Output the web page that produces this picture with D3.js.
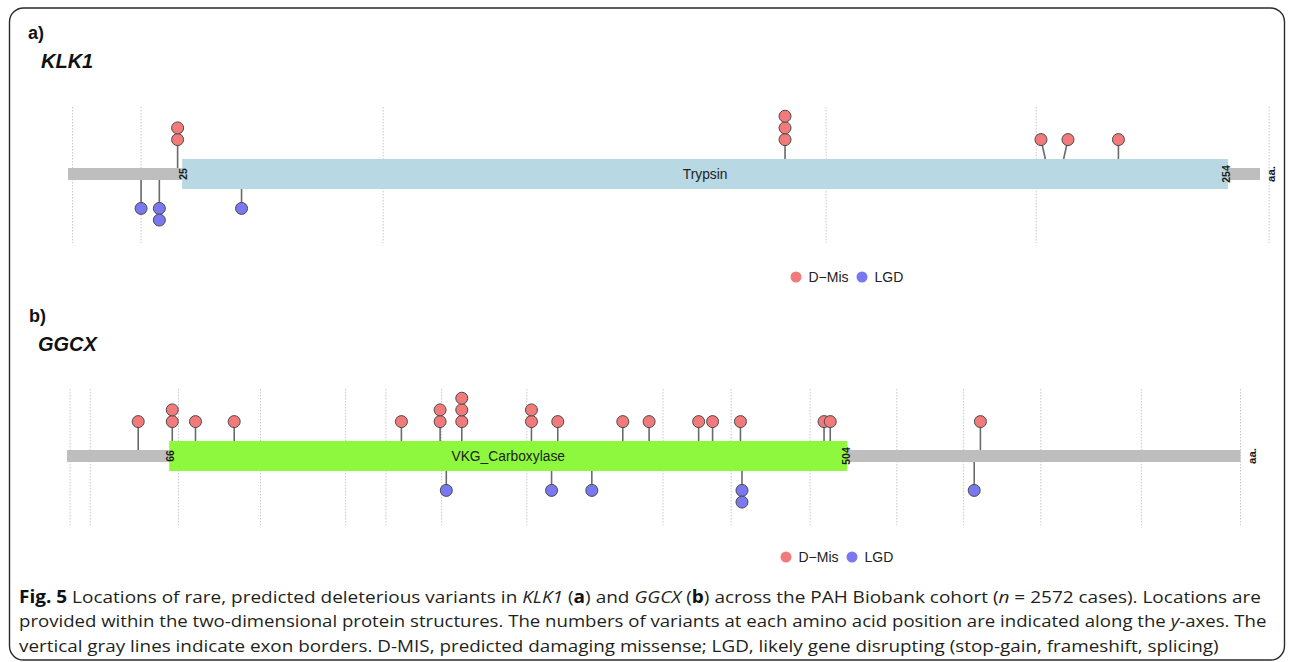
<!DOCTYPE html>
<html>
<head>
<meta charset="utf-8">
<script src="https://cdn.jsdelivr.net/npm/d3@7"></script>
<style>
  html, body { margin: 0; padding: 0; background: #fff; }
  svg { display: block; }
</style>
</head>
<body>
<svg id="fig" width="1290" height="662"></svg>
<script>
// ---- KLK1 ----
const klk1Length = 261;
const klk1Domain = ["Trypsin", 25, 254];
const klk1Exons = [1, 16, 69, 166, 212, 263];
const klk1MisPos = [24, 157, 214, 218, 230];
const klk1MisCount = [2, 3, 1, 1, 1];
const klk1LgdPos = [16, 20, 38];
const klk1LgdCount = [1, 2, 1];

// ---- GGCX ----
const ggcxLength = 758;
const ggcxDomain = ["VKG_Carboxylase", 66, 504];
const ggcxExons = [2, 15, 72, 125, 180, 206, 242, 297, 385, 429, 480, 536, 579, 629, 694, 758];
const ggcxMisPos = [46, 68, 83, 108, 216, 241, 255, 300, 317, 359, 376, 408, 417, 435, 489, 493, 590];
const ggcxMisCount = [1, 2, 1, 1, 1, 2, 3, 2, 1, 1, 1, 1, 1, 1, 1, 1, 1];
const ggcxLgdPos = [245, 313, 339, 436, 586];
const ggcxLgdCount = [1, 1, 1, 2, 1];

const legendLabels = ["D\u2212Mis", "LGD"];

const COL_MIS = "#f27a7b";
const COL_LGD = "#7a78f0";
const FONT = "'Liberation Sans', Arial, Helvetica, sans-serif";

const svg = d3.select("#fig");

// outer frame
svg.append("rect")
  .attr("x", 9.5).attr("y", 8).attr("width", 1275).attr("height", 652)
  .attr("rx", 14).attr("ry", 14)
  .attr("fill", "none").attr("stroke", "#2b2b2b").attr("stroke-width", 1.4);

// push neighbouring lollipop heads apart when they sit closer than `gap` px
function spreadHeads(xs, gap) {
  const heads = xs.slice();
  if (!gap) return heads;
  for (let i = 1; i < heads.length; i++) {
    const d = heads[i] - heads[i - 1];
    if (d < gap) {
      const push = (gap - d) / 2;
      heads[i - 1] -= push;
      heads[i] += push;
    }
  }
  return heads;
}

function drawPanel(cfg) {
  const g = svg.append("g");
  const x = d3.scaleLinear().domain([0, cfg.length]).range(cfg.range);
  const cy = cfg.cy;
  const barH = 12, domH = 30, r = 6, step = 11.7, lift = 34.4;

  // panel letter and gene name
  g.append("text").attr("x", cfg.letterX).attr("y", cfg.letterY)
    .attr("font-family", FONT).attr("font-weight", "bold").attr("font-size", 18)
    .attr("fill", "#111").text(cfg.letter);
  g.append("text").attr("x", cfg.geneX).attr("y", cfg.letterY + 29)
    .attr("font-family", FONT).attr("font-weight", "bold").attr("font-style", "italic")
    .attr("font-size", 20).attr("fill", "#111").text(cfg.gene);

  // exon borders
  g.selectAll("line.exon").data(cfg.exons).join("line")
    .attr("class", "exon")
    .attr("x1", d => x(d)).attr("x2", d => x(d))
    .attr("y1", cy - 67).attr("y2", cy + 69)
    .attr("stroke", "#c8c8c8").attr("stroke-width", 1)
    .attr("stroke-dasharray", "1.5,1.5");

  // backbone and domain
  g.append("rect").attr("x", x(0)).attr("width", x(cfg.length) - x(0))
    .attr("y", cy - barH / 2).attr("height", barH).attr("fill", "#bebebe");
  const [dName, dStart, dEnd] = cfg.domain;
  g.append("rect").attr("x", x(dStart)).attr("width", x(dEnd) - x(dStart))
    .attr("y", cy - domH / 2).attr("height", domH).attr("fill", cfg.domainColor);
  g.append("text").attr("x", (x(dStart) + x(dEnd)) / 2).attr("y", cy)
    .attr("dy", "0.36em").attr("text-anchor", "middle")
    .attr("font-family", FONT).attr("font-size", 13.8).attr("fill", "#222").text(dName);

  const rot = (px, txt, size) => g.append("text")
    .attr("transform", `translate(${px},${cy}) rotate(-90)`)
    .attr("text-anchor", "middle").attr("dy", "0.36em")
    .attr("font-family", FONT).attr("font-weight", "bold").attr("font-size", size)
    .attr("fill", "#1a1a1a").text(txt);
  rot(x(dStart) + 1, String(dStart), 10.5);
  rot(x(dEnd) - 1.5, String(dEnd), 10.5);
  rot(x(cfg.length) + 11, "aa.", 11.5);

  const inDomain = p => p >= dStart && p <= dEnd;

  function series(pos, count, color, dir, gap) {
    const heads = spreadHeads(pos.map(p => x(p)), gap);
    const baseY = cy + dir * lift;
    const sg = g.append("g");
    pos.forEach((p, i) => {
      const edge = cy + dir * (inDomain(p) ? domH / 2 : barH / 2);
      sg.append("line")
        .attr("x1", x(p)).attr("y1", edge)
        .attr("x2", heads[i]).attr("y2", baseY)
        .attr("stroke", "#6a6a6a").attr("stroke-width", 1.6);
    });
    pos.forEach((p, i) => {
      d3.range(count[i]).forEach(k => {
        sg.append("circle")
          .attr("cx", heads[i]).attr("cy", baseY + dir * k * step).attr("r", r)
          .attr("fill", color).attr("stroke", "#4a4a4a").attr("stroke-width", 1);
      });
    });
  }
  series(cfg.misPos, cfg.misCount, COL_MIS, -1, cfg.misGap);
  series(cfg.lgdPos, cfg.lgdCount, COL_LGD, 1, 0);

  // legend
  const lg = g.append("g").attr("transform", `translate(${cfg.legendX},${cfg.legendY})`);
  lg.append("circle").attr("cx", 0).attr("cy", 0).attr("r", 5.5).attr("fill", COL_MIS);
  lg.append("text").attr("x", 12.5).attr("y", 0).attr("dy", "0.36em")
    .attr("font-family", FONT).attr("font-size", 14).attr("fill", "#222").text(legendLabels[0]);
  lg.append("circle").attr("cx", 66).attr("cy", 0).attr("r", 5.5).attr("fill", COL_LGD);
  lg.append("text").attr("x", 78.5).attr("y", 0).attr("dy", "0.36em")
    .attr("font-family", FONT).attr("font-size", 14).attr("fill", "#222").text(legendLabels[1]);
}

drawPanel({
  letter: "a)", gene: "KLK1", letterX: 28, geneX: 41, letterY: 39,
  length: klk1Length, range: [68, 1260], cy: 174,
  domain: klk1Domain, domainColor: "#b8d8e4", exons: klk1Exons,
  misPos: klk1MisPos, misCount: klk1MisCount, misGap: 27,
  lgdPos: klk1LgdPos, lgdCount: klk1LgdCount,
  legendX: 796, legendY: 277
});

drawPanel({
  letter: "b)", gene: "GGCX", letterX: 29, geneX: 38, letterY: 322,
  length: ggcxLength, range: [67, 1240.5], cy: 456,
  domain: ggcxDomain, domainColor: "#8ef83e", exons: ggcxExons,
  misPos: ggcxMisPos, misCount: ggcxMisCount, misGap: 0,
  lgdPos: ggcxLgdPos, lgdCount: ggcxLgdCount,
  legendX: 786, legendY: 557
});

// ---- caption ----
const captionLines = [
  [["Fig. 5", "b"], [" Locations of rare, predicted deleterious variants in ", ""], ["KLK1", "i"], [" (", ""], ["a", "b"], [") and ", ""], ["GGCX", "i"], [" (", ""], ["b", "b"], [") across the PAH Biobank cohort (", ""], ["n", "i"], [" = 2572 cases). Locations are", ""]],
  [["provided within the two-dimensional protein structures. The numbers of variants at each amino acid position are indicated along the ", ""], ["y", "i"], ["-axes. The", ""]],
  [["vertical gray lines indicate exon borders. D-MIS, predicted damaging missense; LGD, likely gene disrupting (stop-gain, frameshift, splicing)", ""]]
];
const captionRight = [1262, 1267, 1220];
const captionLeft = 19;
captionLines.forEach((parts, li) => {
  const t = svg.append("text")
    .attr("x", captionLeft).attr("y", 603 + li * 24.5)
    .attr("font-family", "'Open Sans', 'Noto Sans', sans-serif")
    .attr("font-size", 17).attr("fill", "#231f20");
  parts.forEach(([s, st]) => {
    const ts = t.append("tspan").text(s);
    if (st === "b") ts.attr("font-weight", "bold").attr("fill", "#111");
    if (st === "i") ts.attr("font-style", "italic");
  });
  const w = t.node().getComputedTextLength();
  const sx = (captionRight[li] - captionLeft) / w;
  t.attr("x", 0).attr("transform", `translate(${captionLeft},0) scale(${sx},1)`);
});
</script>
</body>
</html>
